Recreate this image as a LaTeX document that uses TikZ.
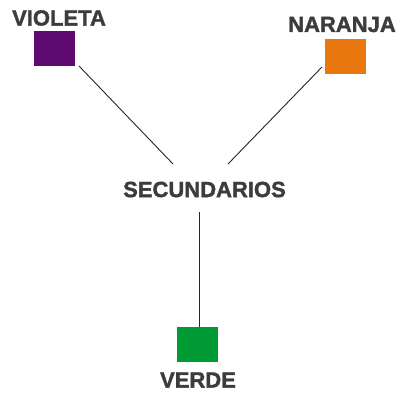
\documentclass[tikz,border=0pt]{standalone}
\usepackage{fontspec}
\setmainfont{Liberation Sans}
\newfontfamily\heavyfont[FakeBold=1.6]{Liberation Sans Bold}
\definecolor{txtgray}{HTML}{3C3C3C}
\definecolor{violetc}{HTML}{5F0A70}
\definecolor{orangec}{HTML}{E97710}
\definecolor{greenc}{HTML}{009A34}
\begin{document}
\begin{tikzpicture}[x=1pt,y=-1pt,
  lbl/.style={text=txtgray,font=\heavyfont\fontsize{22}{23}\selectfont,inner sep=0pt,anchor=center},
  sq/.style={draw=none,minimum width=41pt,minimum height=35pt,inner sep=0pt},
  conn/.style={draw=black!85,line width=0.9pt}]
\useasboundingbox (0,0) rectangle (398,392);
\node[lbl] (tv) at (59,18) {VIOLETA};
\node[lbl] (tn) at (342,24.5) {NARANJA};
\node[lbl] (ts) at (204.5,189.5) {SECUNDARIOS};
\node[lbl] (tg) at (198,380) {VERDE};
\node[sq,fill=violetc] (vio) at (54.5,48.5) {};
\node[sq,fill=orangec] (nar) at (345.5,56.5) {};
\node[sq,fill=greenc] (ver) at (197.5,344.5) {};
\coordinate (a1) at (79,66);
\coordinate (a2) at (173,164);
\coordinate (b1) at (322,67);
\coordinate (b2) at (228,164);
\coordinate (c1) at (199,212);
\draw[conn] (a1) -- (a2);
\draw[conn] (b1) -- (b2);
\draw[conn] (c1) -- (c1 |- ver.north);
\end{tikzpicture}
\end{document}
